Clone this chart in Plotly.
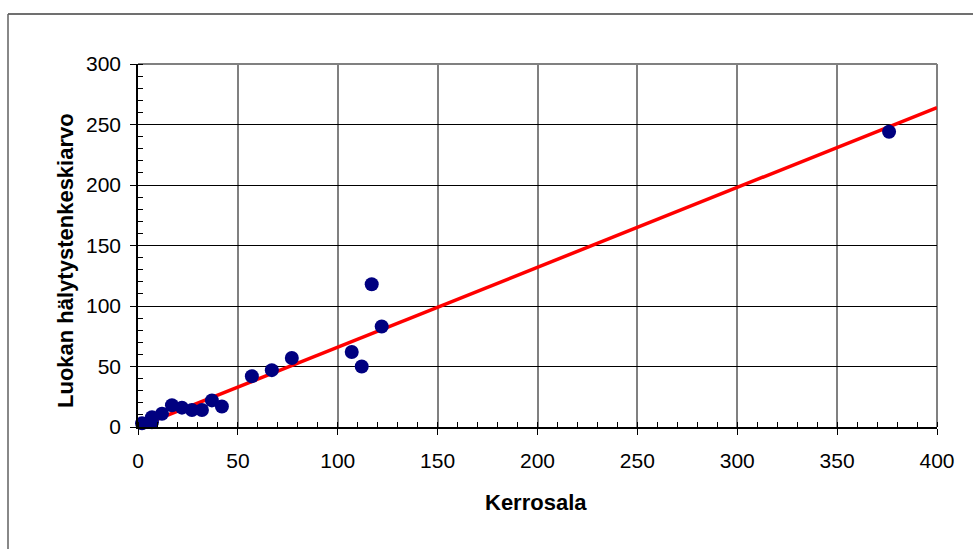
import plotly.graph_objects as go

# Average alarms per class versus floor area (class midpoints)
kerrosala = [2, 7, 7, 12, 17, 22, 27, 32, 37, 42, 57, 67, 77, 107, 112, 117, 122, 376]
halytykset = [3, 8, 4, 11, 18, 16, 14, 14, 22, 17, 42, 47, 57, 62, 50, 118, 83, 244]

# Linear trend line
trend_x = [0, 400]
trend_y = [0, 264]

x_ticks = [0, 50, 100, 150, 200, 250, 300, 350, 400]
y_ticks = [0, 50, 100, 150, 200, 250, 300]

W, H = 973, 549
L, R, T, B = 138, 36, 64, 122
pw, ph = W - L - R, H - T - B


def px_x(p):
    return (p - L) / pw


def px_y(p):
    return (H - B - p) / ph


fig = go.Figure()
fig.add_trace(go.Scatter(
    x=trend_x, y=trend_y, mode="lines",
    line=dict(color="#ff0000", width=3.5), hoverinfo="skip", showlegend=False,
))
fig.add_trace(go.Scatter(
    x=kerrosala, y=halytykset, mode="markers",
    marker=dict(color="#000080", size=14, line=dict(width=0)),
    showlegend=False, cliponaxis=False,
))

font = "Liberation Sans, Arial, sans-serif"

fig.update_layout(
    width=W, height=H,
    margin=dict(l=L, r=R, t=T, b=B, pad=0),
    paper_bgcolor="white", plot_bgcolor="white",
    font=dict(family=font, size=21, color="black"),
    xaxis=dict(
        range=[0, 400], tickvals=x_ticks, ticktext=[str(v) for v in x_ticks],
        showgrid=True, gridcolor="#808080", gridwidth=1.5,
        showline=True, linecolor="black", linewidth=1.5,
        ticks="outside", ticklen=6, tickcolor="black", tickwidth=1,
        ticklabelstandoff=8,
        minor=dict(dtick=10, ticks="inside", ticklen=5, tickcolor="black", showgrid=False),
        zeroline=False, fixedrange=True,
    ),
    yaxis=dict(
        range=[0, 300], tickvals=y_ticks, ticktext=[str(v) for v in y_ticks],
        showgrid=True, gridcolor="black", gridwidth=1,
        showline=True, linecolor="black", linewidth=1.5,
        ticks="outside", ticklen=6, tickcolor="black", tickwidth=1,
        ticklabelstandoff=5,
        minor=dict(dtick=10, ticks="inside", ticklen=5, tickcolor="black", showgrid=False),
        zeroline=False, fixedrange=True,
    ),
    shapes=[
        # plot-area border (top and right)
        dict(type="line", xref="paper", yref="paper", x0=0, x1=1, y0=1, y1=1,
             line=dict(color="#808080", width=2), layer="below"),
        dict(type="line", xref="paper", yref="paper", x0=1, x1=1, y0=0, y1=1,
             line=dict(color="#808080", width=2), layer="below"),
        # chart-area frame
        dict(type="line", xref="paper", yref="paper",
             x0=px_x(8), x1=px_x(W + 5), y0=px_y(14), y1=px_y(14),
             line=dict(color="#404040", width=1.5)),
        dict(type="line", xref="paper", yref="paper",
             x0=px_x(8), x1=px_x(8), y0=px_y(14), y1=px_y(H + 5),
             line=dict(color="#606060", width=1.5)),
    ],
    annotations=[
        dict(text="<b>Kerrosala</b>", xref="paper", yref="paper",
             x=px_x(536), y=px_y(503), showarrow=False,
             font=dict(family=font, size=22), xanchor="center", yanchor="middle"),
        dict(text="<b>Luokan hälytystenkeskiarvo</b>", xref="paper", yref="paper",
             x=px_x(65), y=px_y(261), showarrow=False, textangle=-90,
             font=dict(family=font, size=22), xanchor="center", yanchor="middle"),
    ],
)

fig.write_html("out.html")
